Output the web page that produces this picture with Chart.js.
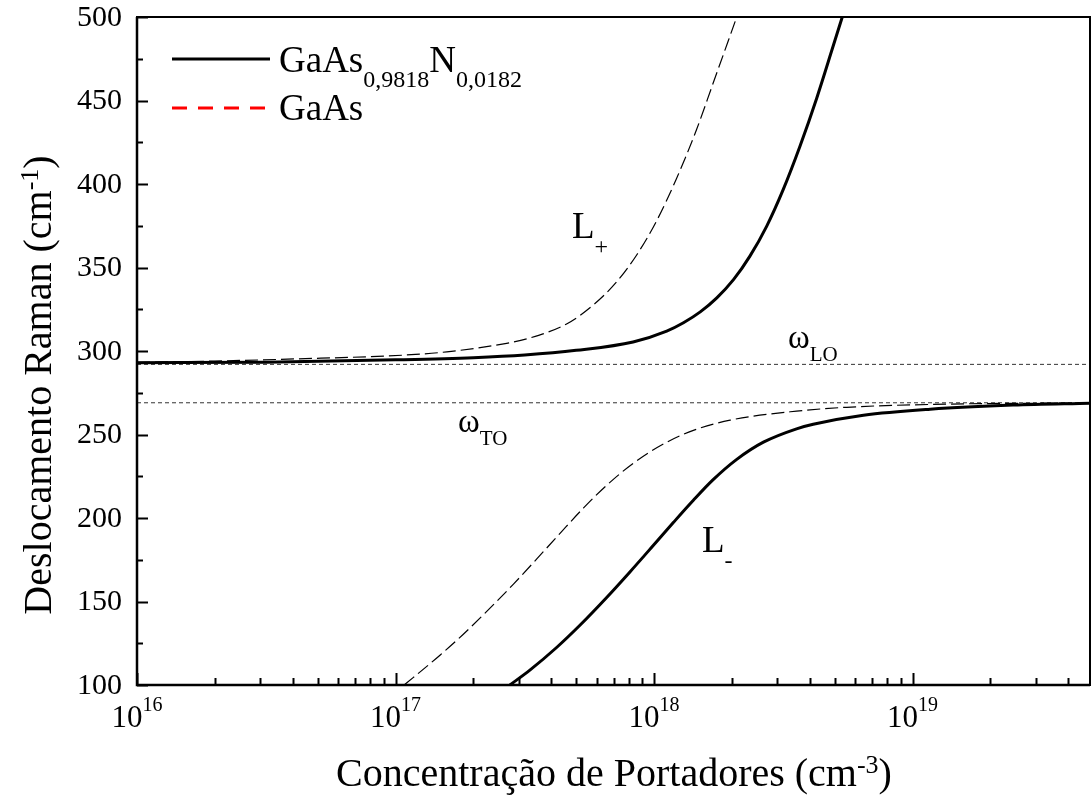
<!DOCTYPE html>
<html>
<head>
<meta charset="utf-8">
<script src="https://cdn.jsdelivr.net/npm/chart.js@4.4.1/dist/chart.umd.min.js"></script>
<style>
  body { margin: 0; background: #fff; }
  #wrap { width: 1092px; height: 802px; }
</style>
</head>
<body>
<div id="wrap"><canvas id="raman"></canvas></div>
<script>
// carrier concentration (cm^-3) and Raman shift (cm^-1)

// GaAs(0.9818)N(0.0182), upper branch L+
const concLplusAlloy = [1e16, 3.16e16, 1e17, 2e17, 3.16e17, 5e17, 8.3e17, 1.12e18, 1.3e18, 1.51e18, 1.75e18, 2.03e18, 2.35e18, 2.73e18, 3.16e18, 3.67e18, 4.26e18, 4.94e18, 5.35e18];
const ramanLplusAlloy = [293.0, 293.3, 294.7, 296.0, 297.6, 300.4, 305.4, 311.9, 316.9, 323.4, 331.8, 342.7, 356.8, 374.8, 396.6, 422.6, 451.4, 482.9, 500.0];

// GaAs(0.9818)N(0.0182), lower branch L-
const concLminusAlloy = [2.77e17, 3.31e17, 4.21e17, 5.18e17, 6.56e17, 8.07e17, 9.93e17, 1.19e18, 1.42e18, 1.69e18, 2.09e18, 2.65e18, 3.56e18, 4.13e18, 6.46e18, 1.17e19, 2.45e19, 4.86e19];
const ramanLminusAlloy = [100, 108.9, 122.6, 135.9, 152.4, 167.7, 183.5, 197.4, 210.6, 222.8, 235.1, 245.4, 253.4, 256.1, 261.5, 265.1, 267.6, 268.7];

// GaAs, upper branch L+
const concLplusGaAs = [1e16, 2e16, 4.17e16, 1.1e17, 1.58e17, 2.69e17, 3.31e17, 4.59e17, 5.82e17, 7.18e17, 8.57e17, 1.02e18, 1.22e18, 1.46e18, 1.69e18, 2.09e18];
const ramanLplusGaAs = [293.2, 294.0, 295.3, 297.6, 299.5, 304.6, 307.8, 316.2, 327.5, 341.5, 357.5, 377.5, 403.0, 432.5, 460.0, 500.0];

// GaAs, lower branch L-
const concLminusGaAs = [1.08e17, 1.17e17, 1.49e17, 1.83e17, 2.32e17, 2.86e17, 3.52e17, 4.33e17, 5.33e17, 6.56e17, 8.32e17, 1.09e18, 1.42e18, 1.97e18, 3.56e18, 5.56e18, 1.36e19, 4.86e19];
const ramanLminusGaAs = [100, 104.4, 118.0, 130.4, 146.0, 160.4, 175.5, 190.8, 205.9, 219.6, 232.8, 244.4, 252.5, 258.6, 264.0, 266.3, 268.2, 268.9];

// phonon frequencies
const refConc = [1e16, 4.86e19];
const omegaLO = [292, 292];
const omegaTO = [269, 269];

// axes
const xMin = 1e16, xMax = 4.86e19;
const yMin = 100, yMax = 500;
const xTickValues = [1e16, 1e17, 1e18, 1e19];
const xTickExponents = ['16', '17', '18', '19'];
const yTickValues = [100, 150, 200, 250, 300, 350, 400, 450, 500];

const serif = '"Liberation Serif", "Times New Roman", serif';
const font = s => s + 'px ' + serif;

function pts(xs, ys) {
    return xs.map((v, i) => ({x: v, y: ys[i]}));
}

// draws text pieces one after another, each {t, size, dy}
function rich(ctx, parts, x, y, align) {
    let w = 0;
    parts.forEach(p => { ctx.font = font(p.size); w += ctx.measureText(p.t).width; });
    let cx = align === 'center' ? x - w / 2 : x;
    ctx.textAlign = 'left';
    ctx.textBaseline = 'alphabetic';
    parts.forEach(p => {
        ctx.font = font(p.size);
        ctx.fillText(p.t, cx, y + (p.dy || 0));
        cx += ctx.measureText(p.t).width;
    });
}

const decor = {
    id: 'decor',
    afterDraw(chart) {
        const {ctx, chartArea: a, scales: {x, y}} = chart;
        ctx.save();
        ctx.fillStyle = '#000';
        ctx.strokeStyle = '#000';

        // frame
        ctx.lineWidth = 2;
        ctx.strokeRect(a.left, a.top, a.right - a.left, a.bottom - a.top);
        ctx.lineWidth = 2.5;
        ctx.beginPath();
        ctx.moveTo(a.left, a.top);
        ctx.lineTo(a.left, a.bottom);
        ctx.lineTo(a.right, a.bottom);
        ctx.stroke();

        // inward ticks on y
        ctx.lineWidth = 2;
        ctx.beginPath();
        for (let v = yMin; v <= yMax; v += 25) {
            const py = Math.round(y.getPixelForValue(v)) + 0.5;
            const len = v % 50 === 0 ? 11 : 6;
            ctx.moveTo(a.left, py);
            ctx.lineTo(a.left + len, py);
        }
        // inward ticks on x (log)
        for (let e = 16; e <= 19; e++) {
            for (let m = 1; m <= 9; m++) {
                const v = m * Math.pow(10, e);
                if (v > xMax) break;
                const px = Math.round(x.getPixelForValue(v)) + 0.5;
                const len = m === 1 ? 12 : 7;
                ctx.moveTo(px, a.bottom);
                ctx.lineTo(px, a.bottom - len);
            }
        }
        ctx.stroke();

        // y tick labels
        ctx.font = font(30);
        ctx.textAlign = 'right';
        ctx.textBaseline = 'middle';
        yTickValues.forEach(v => ctx.fillText(String(v), 122, y.getPixelForValue(v) + 1));

        // x tick labels 10^n
        xTickValues.forEach((v, i) => {
            rich(ctx, [{t: '10', size: 31}, {t: xTickExponents[i], size: 20, dy: -16}],
                x.getPixelForValue(v), 727, 'center');
        });

        // axis titles
        rich(ctx, [{t: 'Concentração de Portadores (cm', size: 40},
            {t: '-3', size: 26, dy: -13}, {t: ')', size: 40}], 614, 786, 'center');
        ctx.save();
        ctx.translate(51, 385);
        ctx.rotate(-Math.PI / 2);
        rich(ctx, [{t: 'Deslocamento Raman (cm', size: 40},
            {t: '-1', size: 26, dy: -13}, {t: ')', size: 40}], 0, 0, 'center');
        ctx.restore();

        // legend
        ctx.lineWidth = 3;
        ctx.setLineDash([]);
        ctx.beginPath();
        ctx.moveTo(172, 59);
        ctx.lineTo(270, 59);
        ctx.stroke();
        ctx.strokeStyle = '#ff0000';
        ctx.setLineDash([15, 11]);
        ctx.beginPath();
        ctx.moveTo(172, 108);
        ctx.lineTo(270, 108);
        ctx.stroke();
        ctx.setLineDash([]);
        rich(ctx, [{t: 'GaAs', size: 37}, {t: '0,9818', size: 24, dy: 15},
            {t: 'N', size: 37}, {t: '0,0182', size: 24, dy: 15}], 279, 72);
        rich(ctx, [{t: 'GaAs', size: 37}], 279, 120);

        // branch and phonon labels
        rich(ctx, [{t: 'L', size: 37}, {t: '+', size: 24, dy: 16}], 572, 238);
        rich(ctx, [{t: 'L', size: 37}, {t: '-', size: 24, dy: 16}], 702, 552);
        rich(ctx, [{t: 'ω', size: 33}, {t: 'LO', size: 21, dy: 13}], 788, 348);
        rich(ctx, [{t: 'ω', size: 33}, {t: 'TO', size: 21, dy: 13}], 458, 432);

        ctx.restore();
    }
};

const solid = {borderColor: '#000', borderWidth: 3, pointRadius: 0, cubicInterpolationMode: 'monotone'};
const dashed = {borderColor: '#000', borderWidth: 1.2, borderDash: [13, 5], pointRadius: 0, cubicInterpolationMode: 'monotone'};
const refLine = {borderColor: '#333', borderWidth: 1, borderDash: [4, 3], pointRadius: 0};

new Chart(document.getElementById('raman'), {
    type: 'line',
    data: {
        datasets: [
            {label: 'GaAsN L+', data: pts(concLplusAlloy, ramanLplusAlloy), ...solid},
            {label: 'GaAsN L-', data: pts(concLminusAlloy, ramanLminusAlloy), ...solid},
            {label: 'GaAs L+', data: pts(concLplusGaAs, ramanLplusGaAs), ...dashed},
            {label: 'GaAs L-', data: pts(concLminusGaAs, ramanLminusGaAs), ...dashed},
            {label: 'wLO', data: pts(refConc, omegaLO), ...refLine},
            {label: 'wTO', data: pts(refConc, omegaTO), ...refLine},
        ]
    },
    options: {
        responsive: true,
        maintainAspectRatio: false,
        animation: false,
        devicePixelRatio: 1,
        layout: {padding: {left: 0, right: 2, top: 17, bottom: 0}},
        scales: {
            x: {
                type: 'logarithmic',
                min: xMin,
                max: xMax,
                grid: {display: false, drawTicks: false},
                border: {display: false},
                ticks: {display: false},
                afterFit: s => { s.height = 117; }
            },
            y: {
                min: yMin,
                max: yMax,
                grid: {display: false, drawTicks: false},
                border: {display: false},
                ticks: {display: false, stepSize: 50},
                afterFit: s => { s.width = 137; }
            }
        },
        plugins: {
            legend: {display: false},
            tooltip: {enabled: false}
        }
    },
    plugins: [decor]
});
</script>
</body>
</html>
